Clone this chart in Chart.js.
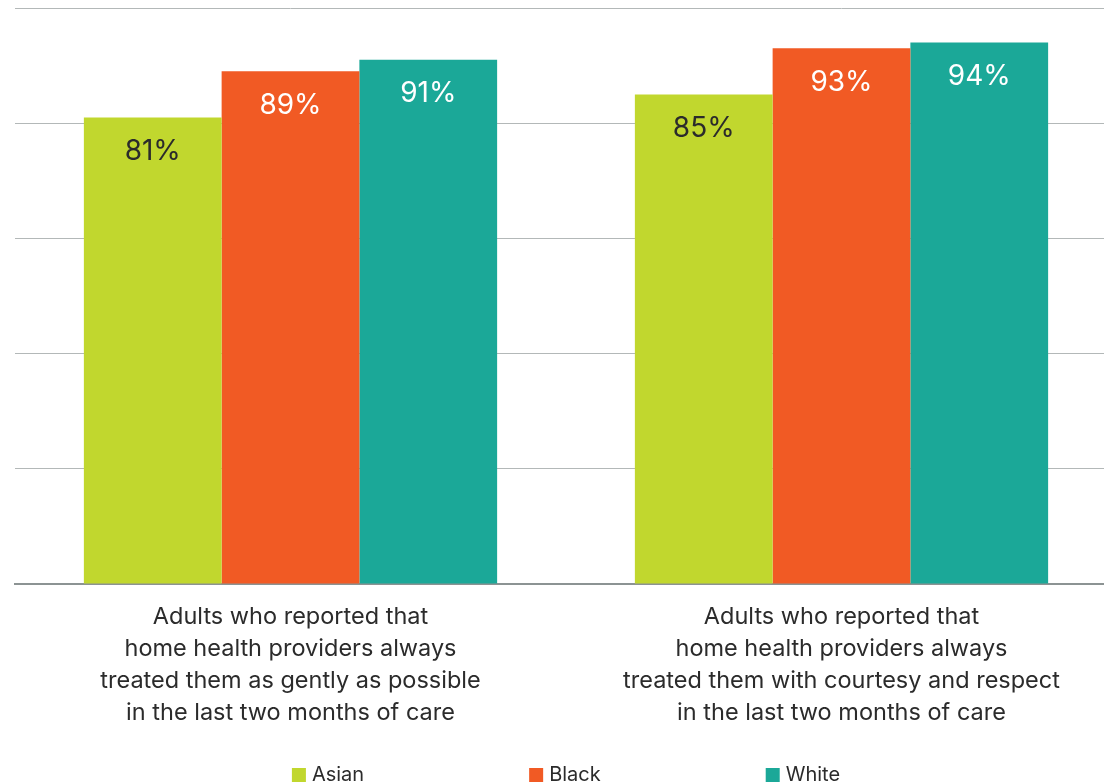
<!DOCTYPE html>
<html>
<head>
<meta charset="utf-8">
<script src="https://cdn.jsdelivr.net/npm/chart.js@4/dist/chart.umd.min.js"></script>
<style>
  html, body { margin: 0; padding: 0; background: #fff; overflow: hidden; }
  #wrap { position: absolute; left: 0; top: 0; width: 1117px; height: 784px; }
</style>
</head>
<body>
<div id="wrap"><canvas id="grafico" width="1117" height="784"></canvas></div>
<script>
// dados
var categorias = [
  ["Adults who reported that", "home health providers always", "treated them as gently as possible", "in the last two months of care"],
  ["Adults who reported that", "home health providers always", "treated them with courtesy and respect", "in the last two months of care"]
];
var grupos = ["Asian", "Black", "White"];
var valoresAsian = [81, 85];
var valoresBlack = [89, 93];
var valoresWhite = [91, 94];
var cores = ["#c1d72e", "#f15a24", "#1ba898"];
var coresTexto = ["#2b2b2b", "#ffffff", "#ffffff"];

var fonte = "Inter, 'DejaVu Sans', sans-serif";

// rótulos dentro das barras
var pluginRotulos = {
  id: "rotulos",
  afterDatasetsDraw: function(chart) {
    var ctx = chart.ctx;
    ctx.save();
    ctx.font = "400 28px " + fonte;
    ctx.textAlign = "center";
    ctx.textBaseline = "middle";
    chart.data.datasets.forEach(function(ds, i) {
      var meta = chart.getDatasetMeta(i);
      meta.data.forEach(function(bar, j) {
        ctx.fillStyle = coresTexto[i];
        ctx.fillText(ds.data[j] + "%", bar.x, bar.y + 34);
      });
    });
    ctx.restore();
  }
};

// legenda desenhada à mão (espaçamento largo)
var pluginLegenda = {
  id: "legendaLarga",
  afterDraw: function(chart) {
    var ctx = chart.ctx;
    var caixa = 14, gap = 6, espaco = 165;
    ctx.save();
    ctx.font = "400 20px " + fonte;
    ctx.textBaseline = "middle";
    var larguras = chart.data.datasets.map(function(ds) {
      return caixa + gap + ctx.measureText(ds.label).width;
    });
    var total = larguras.reduce(function(a, b) { return a + b; }, 0) + espaco * (larguras.length - 1);
    var area = chart.chartArea;
    var x = (area.left + area.right) / 2 - total / 2;
    var y = 775;
    chart.data.datasets.forEach(function(ds, i) {
      ctx.fillStyle = ds.backgroundColor;
      ctx.fillRect(x, y - 7, caixa, caixa);
      ctx.fillStyle = "#2b2b2b";
      ctx.fillText(ds.label, x + caixa + gap, y);
      x += larguras[i] + espaco;
    });
    ctx.restore();
  }
};

var ctx = document.getElementById("grafico").getContext("2d");
new Chart(ctx, {
  type: "bar",
  data: {
    labels: categorias,
    datasets: [
      { label: grupos[0], data: valoresAsian, backgroundColor: cores[0] },
      { label: grupos[1], data: valoresBlack, backgroundColor: cores[1] },
      { label: grupos[2], data: valoresWhite, backgroundColor: cores[2] }
    ]
  },
  options: {
    responsive: false,
    animation: false,
    layout: { padding: { left: 15, right: 0, top: 8, bottom: 46 } },
    datasets: { bar: { categoryPercentage: 0.75, barPercentage: 1.0 } },
    plugins: {
      legend: { display: false },
      tooltip: { enabled: false }
    },
    scales: {
      x: {
        grid: { display: false },
        border: { display: true, color: "#8c9393", width: 2 },
        ticks: {
          color: "#2b2b2b",
          padding: 9,
          maxRotation: 0,
          autoSkip: false,
          font: { family: fonte, size: 23.5, lineHeight: "32px" }
        }
      },
      y: {
        min: 0,
        max: 100,
        ticks: { display: false, stepSize: 20 },
        border: { display: false },
        grid: { color: "#b3b8b8", lineWidth: 1, drawTicks: false }
      }
    }
  },
  plugins: [pluginRotulos, pluginLegenda]
});
</script>
</body>
</html>
